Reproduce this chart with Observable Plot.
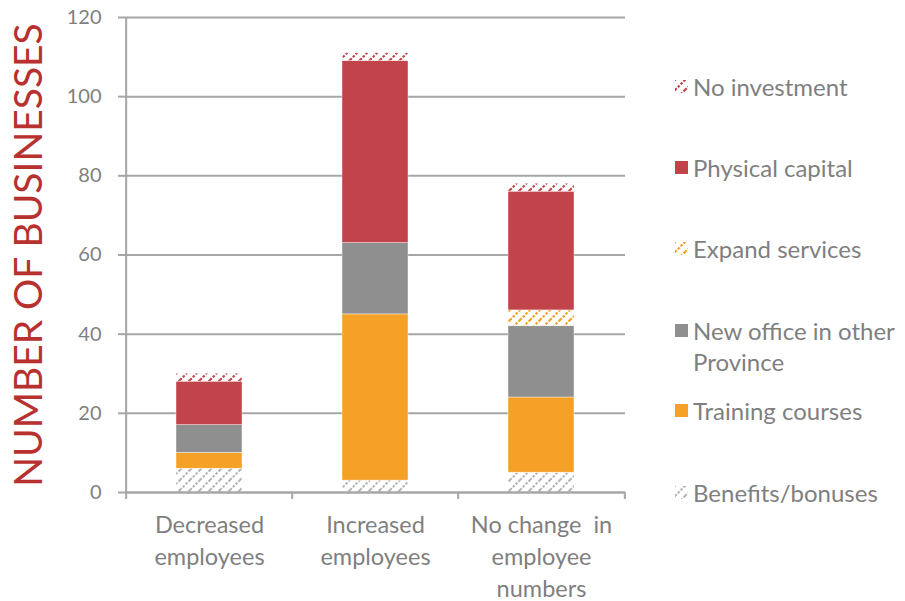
<!DOCTYPE html>
<html><head><meta charset="utf-8">
<script src="https://cdn.jsdelivr.net/npm/d3@7"></script>
<script src="https://cdn.jsdelivr.net/npm/@observablehq/plot@0.6"></script>
<style>
body{margin:0;background:#fff;}
#wrap{position:relative;width:905px;height:601px;overflow:hidden;}
#wrap svg text{white-space:pre;}
.lg{position:absolute;left:675px;font-family:Lato,"Open Sans",sans-serif;font-size:24px;color:#7f7f7f;line-height:31px;white-space:nowrap;}
.lg svg{position:absolute;left:0;top:9px;}
.lg span{display:block;margin-left:18px;}
</style></head><body>
<svg width="0" height="0" style="position:absolute">
<defs>
<pattern id="pat-noinv" patternUnits="userSpaceOnUse" width="10" height="10">
<path d="M-1,1 L1,-1 M0,10 L10,0 M9,11 L11,9" stroke="#c1444a" stroke-width="2.2" stroke-dasharray="2.5 1.5"/>
</pattern>
<pattern id="pat-expand" patternUnits="userSpaceOnUse" width="10" height="10">
<path d="M-1,1 L1,-1 M0,10 L10,0 M9,11 L11,9" stroke="#f5a127" stroke-width="2.2" stroke-dasharray="2.5 1.5"/>
</pattern>
<pattern id="pat-benefits" patternUnits="userSpaceOnUse" width="10" height="10">
<path d="M-1,1 L1,-1 M0,10 L10,0 M9,11 L11,9" stroke="#b3b3b3" stroke-width="2" stroke-dasharray="2.5 1.5"/>
</pattern>
</defs>
</svg>
<div id="wrap"></div>
<script>
const categories = ["Decreased employees", "Increased employees", "No change  in employee numbers"];
const categoryLabels = ["Decreased\nemployees", "Increased\nemployees", "No change  in\nemployee\nnumbers"];
const series = ["Benefits/bonuses", "Training courses", "New office in other Province", "Expand services", "Physical capital", "No investment"];
const legendLabels = ["Benefits/bonuses", "Training courses", "New office in other\nProvince", "Expand services", "Physical capital", "No investment"];
const benefits = [6, 3, 5];
const training = [4, 42, 19];
const newOffice = [7, 18, 18];
const expandServices = [0, 0, 4];
const physicalCapital = [11, 46, 30];
const noInvestment = [2, 2, 2];
const yTicks = [0, 20, 40, 60, 80, 100, 120];
const seriesFills = ["url(#pat-benefits)", "#f5a127", "#8f8f8f", "url(#pat-expand)", "#c1444a", "url(#pat-noinv)"];

const seriesValues = [benefits, training, newOffice, expandServices, physicalCapital, noInvestment];
const data = [];
series.forEach((s, si) => categories.forEach((c, ci) => data.push({category: c, series: s, value: seriesValues[si][ci]})));

const W = 905, H = 601, ML = 125, MR = 280, MT = 17, MB = 109;
const step = (W - ML - MR) / categories.length;
const grid = "#a6a6a6";
const font = 'Lato, "Open Sans", sans-serif';

const chart = Plot.plot({
  width: W, height: H,
  marginLeft: ML, marginRight: MR, marginTop: MT, marginBottom: MB,
  style: {color: "#7f7f7f", background: "transparent", fontFamily: font},
  x: {domain: categories, paddingInner: 0.6, paddingOuter: 0.3, axis: null, label: null},
  y: {domain: [0, 120], axis: null, label: null},
  color: {domain: series, range: seriesFills},
  marks: [
    Plot.ruleY(yTicks.slice(1), {stroke: grid, strokeWidth: 2}),
    Plot.barY(data, {x: "category", y: "value", fill: "series", order: series, stroke: "#ffffff", strokeWidth: 0.6, strokeOpacity: 0.7}),
    Plot.ruleY([0], {stroke: grid, strokeWidth: 2.5}),
    Plot.ruleX([categories[0]], {dx: -step / 2, stroke: grid, strokeWidth: 2}),
    Plot.axisY({ticks: yTicks, tickSize: 7, tickPadding: 17, fontSize: 20, stroke: grid, strokeWidth: 2, fontFamily: font, label: null}),
    Plot.axisX({tickSize: 7, tickFormat: () => "", dx: -step / 2, stroke: grid, strokeWidth: 2, label: null}),
    Plot.axisX({ticks: [categories[categories.length - 1]], tickSize: 7, tickFormat: () => "", dx: step / 2, stroke: grid, strokeWidth: 2, label: null}),
    Plot.axisX({tickSize: 0, tickPadding: 18, fontSize: 23.5, lineHeight: 1.36, tickFormat: d => categoryLabels[categories.indexOf(d)], fontFamily: font, label: null}),
    Plot.text(["NUMBER OF BUSINESSES"], {text: d => d, frameAnchor: "left", textAnchor: "middle", rotate: -90, dx: -96, fontSize: 39, fill: "#b7312f", fontFamily: font})
  ]
});
const wrap = document.getElementById("wrap");
wrap.appendChild(chart);

const legendTops = [477, 395, 315, 233, 152, 71];
series.forEach((s, i) => {
  const d = document.createElement("div");
  d.className = "lg";
  d.style.top = legendTops[i] + "px";
  d.innerHTML = `<svg width="13" height="13"><rect width="13" height="13" fill="${seriesFills[i]}"/></svg>` +
    legendLabels[i].split("\n").map(t => `<span>${t}</span>`).join("");
  wrap.appendChild(d);
});
</script>
</body></html>
